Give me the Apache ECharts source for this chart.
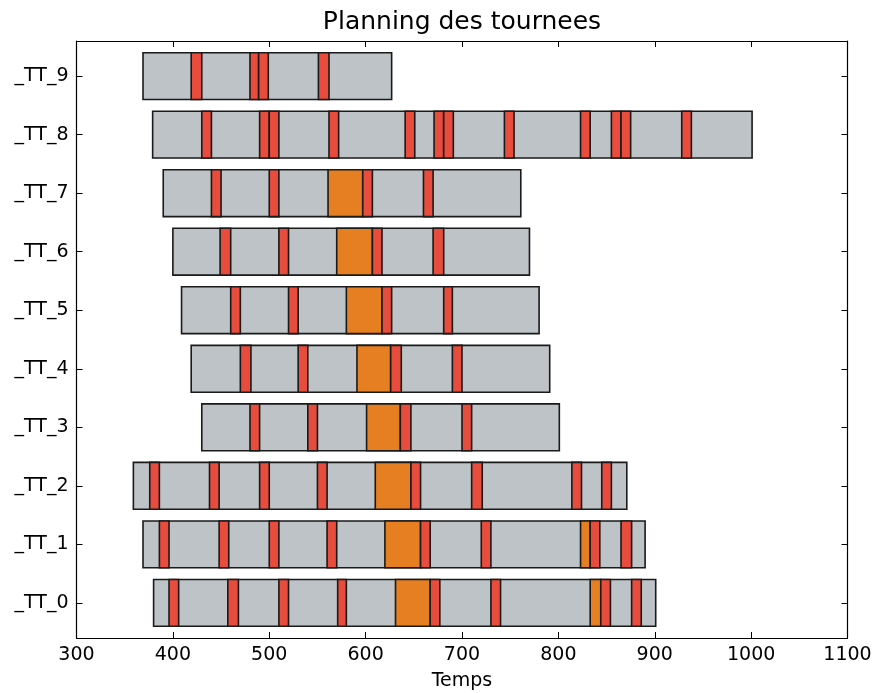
<!DOCTYPE html>
<html>
<head>
<meta charset="utf-8">
<script src="https://cdn.jsdelivr.net/npm/echarts@6/dist/echarts.min.js"></script>
<style>
  html, body { margin: 0; padding: 0; background: #fff; }
  #chart { width: 874px; height: 693px; }
</style>
</head>
<body>
<div id="chart"></div>
<script>
// ---- Data ----
const categories = ['_TT_0', '_TT_1', '_TT_2', '_TT_3', '_TT_4', '_TT_5', '_TT_6', '_TT_7', '_TT_8', '_TT_9'];
const xTicks = [300, 400, 500, 600, 700, 800, 900, 1000, 1100];

const tourStart = [380, 369, 359, 430, 419, 409, 400, 390, 379, 369];
const tourEnd   = [901, 890, 871, 801, 791, 780, 770, 761, 1001, 627];

const serviceTimes = [
  [[396, 406], [457, 468], [510, 520], [571, 580], [667, 677], [730, 740], [844, 854], [876, 886]],
  [[386, 396], [448, 458], [500, 510], [560, 570], [657, 667], [720, 730], [833, 843], [865, 876]],
  [[376, 386], [438, 448], [490, 500], [550, 560], [647, 657], [710, 721], [814, 824], [845, 855]],
  [[480, 490], [540, 550], [636, 647], [700, 710]],
  [[470, 481], [530, 540], [626, 637], [690, 700]],
  [[460, 470], [520, 530], [617, 627], [681, 690]],
  [[449, 460], [510, 520], [607, 617], [670, 681]],
  [[440, 450], [500, 510], [597, 607], [660, 670]],
  [[430, 440], [490, 500], [500, 510], [562, 572], [641, 651], [671, 681], [681, 691], [744, 754], [823, 833], [855, 865], [865, 875], [928, 938]],
  [[419, 430], [480, 489], [489, 499], [551, 562]]
];

const waitTimes = [
  [[631, 667], [833, 844]],
  [[620, 657], [823, 833]],
  [[610, 647]],
  [[601, 636]],
  [[591, 626]],
  [[580, 617]],
  [[570, 607]],
  [[561, 597]],
  [],
  []
];

// ---- Build series data ----
const tourData = tourStart.map((s, i) => [i, s, tourEnd[i]]);
const waitData = [];
waitTimes.forEach((row, i) => row.forEach(seg => waitData.push([i, seg[0], seg[1]])));
const serviceData = [];
serviceTimes.forEach((row, i) => row.forEach(seg => serviceData.push([i, seg[0], seg[1]])));

const FONT = 'DejaVu Sans';
const BAR_H = 0.8;

function makeRender(color) {
  return function (params, api) {
    const row = api.value(0);
    const p0 = api.coord([api.value(1), row]);
    const p1 = api.coord([api.value(2), row]);
    const h = api.size([0, BAR_H])[1];
    return {
      type: 'rect',
      shape: { x: p0[0], y: p0[1] - h / 2, width: p1[0] - p0[0], height: h },
      style: { fill: color, stroke: '#1a1a1a', lineWidth: 1.6 }
    };
  };
}

const yVals = categories.map((c, i) => i);

const chart = echarts.init(document.getElementById('chart'), null, { renderer: 'canvas' });
chart.setOption({
  animation: false,
  backgroundColor: '#ffffff',
  title: {
    text: 'Planning des tournees',
    left: 462,
    textAlign: 'center',
    top: 10,
    padding: 0,
    textStyle: { fontFamily: FONT, fontSize: 25, fontWeight: 'normal', color: '#000' }
  },
  grid: { left: 76.5, right: 26.5, top: 41, bottom: 55, containLabel: false, outerBoundsMode: 'none' },
  xAxis: [
    {
      type: 'value', min: 300, max: 1100, interval: 100, position: 'bottom',
      name: 'Temps', nameLocation: 'middle', nameGap: 34,
      nameTextStyle: { fontFamily: FONT, fontSize: 19, color: '#000' },
      axisLine: { onZero: false, lineStyle: { color: '#000', width: 1.2 } },
      axisTick: { inside: true, length: 6, lineStyle: { color: '#000' } },
      axisLabel: { fontFamily: FONT, fontSize: 19, color: '#000', margin: 8,
        customValues: xTicks, formatter: v => String(v) },
      splitLine: { show: false }
    },
    {
      type: 'value', min: 300, max: 1100, interval: 100, position: 'top',
      axisLine: { onZero: false, lineStyle: { color: '#000', width: 1.2 } },
      axisTick: { inside: true, length: 6, lineStyle: { color: '#000' } },
      axisLabel: { show: false },
      splitLine: { show: false }
    }
  ],
  yAxis: [
    {
      type: 'value', min: -0.6, max: 9.6, position: 'left',
      axisLine: { show: true, onZero: false, lineStyle: { color: '#000', width: 1.2 } },
      axisTick: { show: true, inside: true, length: 6, customValues: yVals, lineStyle: { color: '#000' } },
      axisLabel: { fontFamily: FONT, fontSize: 19, color: '#000', margin: 8,
        customValues: yVals, formatter: v => categories[Math.round(v)] },
      splitLine: { show: false }
    },
    {
      type: 'value', min: -0.6, max: 9.6, position: 'right',
      axisLine: { show: true, onZero: false, lineStyle: { color: '#000', width: 1.2 } },
      axisTick: { show: true, inside: true, length: 6, customValues: yVals, lineStyle: { color: '#000' } },
      axisLabel: { show: false },
      splitLine: { show: false }
    }
  ],
  series: [
    { type: 'custom', name: 'Tournee', renderItem: makeRender('#bdc3c7'), encode: { x: [1, 2], y: 0 }, data: tourData, clip: true },
    { type: 'custom', name: 'Attente', renderItem: makeRender('#e67e22'), encode: { x: [1, 2], y: 0 }, data: waitData, clip: true },
    { type: 'custom', name: 'Service', renderItem: makeRender('#e74c3c'), encode: { x: [1, 2], y: 0 }, data: serviceData, clip: true }
  ]
});
</script>
</body>
</html>
